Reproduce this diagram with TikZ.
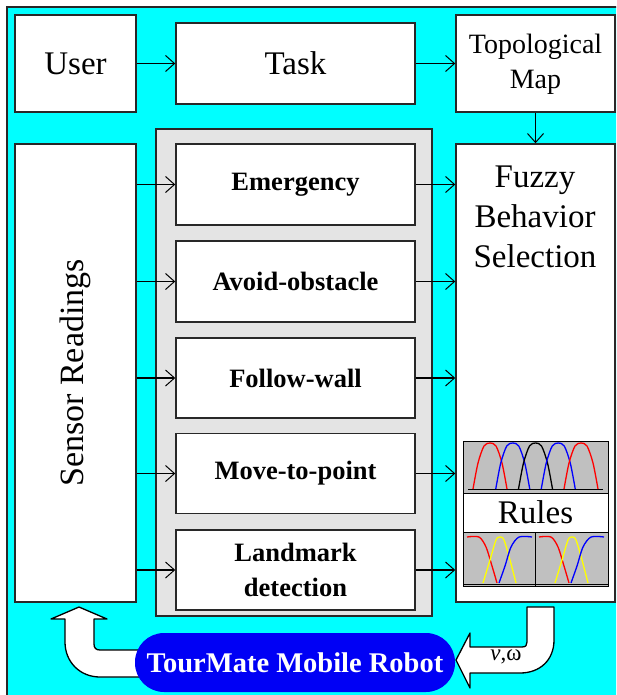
\documentclass[tikz,border=0pt]{standalone}
\usepackage{fontspec}
\setmainfont{Liberation Serif}
\usetikzlibrary{arrows.meta}
\definecolor{bgcyan}{RGB}{0,255,255}
\definecolor{panelgray}{RGB}{228,228,228}
\definecolor{plotgray}{RGB}{192,192,192}
\definecolor{robotblue}{RGB}{0,0,245}
\definecolor{myyellow}{RGB}{255,255,0}
\definecolor{edgegray}{RGB}{40,40,40}
\begin{document}
\begin{tikzpicture}[x=1pt,y=-1pt,
  box/.style={draw=edgegray,line width=1.5pt,fill=white,inner sep=0pt},
  conn/.style={line width=1.3pt,-{Straight Barb[length=9pt,width=16pt,line width=1pt]}},
  bigtxt/.style={font=\fontsize{33}{40}\selectfont,align=center},
  toptxt/.style={font=\fontsize{33}{40}\selectfont},
  behtxt/.style={font=\bfseries\fontsize{26.5}{35}\selectfont,align=center},
  hollow/.style={draw=black,line width=1.3pt,fill=white,line join=round},
  mf/.style={line width=1.3pt}]
\clip (0,0) rectangle (616,695);
\fill[white] (0,0) rectangle (616,695);
\draw[fill=bgcyan,line width=1.5pt,draw=edgegray] (7,7) rectangle (640,720);

% top row
\node[box,minimum width=121pt,minimum height=97pt,toptxt] (user) at (75.5,63.5) {User};
\node[box,minimum width=239pt,minimum height=81pt,toptxt] (task) at (295.5,63.5) {Task};
\node[box,minimum width=159pt,minimum height=97pt] (topo) at (535.5,63.5) {};
\node[font=\fontsize{28}{35}\selectfont,align=center] (topotxt) at (535.5,64) {Topological\\Map};

% sensor readings
\node[box,minimum width=121pt,minimum height=458pt] (sensor) at (75.5,373) {};
\node[rotate=90,font=\fontsize{34}{40}\selectfont] (sensortxt) at (75.5,373) {Sensor Readings};

% behaviours panel
\node[draw=edgegray,line width=1.5pt,fill=panelgray,minimum width=276pt,minimum height=487pt,inner sep=0pt] (panel) at (294,372.5) {};
\node[box,minimum width=239pt,minimum height=81pt,behtxt] (emerg) at (295.5,184.5) {Emergency};
\node[box,minimum width=239pt,minimum height=81pt,behtxt] (avoid) at (295.5,281.5) {Avoid-obstacle};
\node[box,minimum width=239pt,minimum height=80pt,behtxt] (follow) at (295.5,378) {Follow-wall};
\node[box,minimum width=239pt,minimum height=80pt,behtxt] (move) at (295.5,473.5) {Move-to-point};
\node[box,minimum width=239pt,minimum height=80pt,behtxt] (land) at (295.5,570) {Landmark\\detection};

% fuzzy behaviour selection
\node[box,minimum width=159pt,minimum height=458pt] (fuzzy) at (535.5,373) {};
\node[bigtxt] (fuzzytxt) at (535,217) {Fuzzy\\Behavior\\Selection};

% rules panel
\node[draw=black,line width=1pt,fill=plotgray,minimum width=145pt,minimum height=145pt,inner sep=0pt] (rules) at (535.5,513.5) {};
\node[draw=black,line width=1pt,fill=white,minimum width=145pt,minimum height=39pt,inner sep=0pt,font=\fontsize{33}{40}\selectfont] (rulestxt) at (535.5,512.5) {Rules};
\draw[line width=1pt] (rulestxt.south) -- (rules.south);
\draw[line width=1pt] (468,489) -- (603,489);
\draw[line width=1pt] (463,584) -- (608,584);
\foreach \c/\col in {490/red,512.75/blue,535.5/black,558.25/blue,581/red}{
  \draw[mf,\col] plot[smooth,tension=0.5] coordinates {(\c-17,489) (\c-12,463) (\c-6,446) (\c,443) (\c+6,446) (\c+12,463) (\c+17,489)};
}
\foreach \o in {0,72}{
  \draw[mf,red] plot[smooth,tension=0.5] coordinates {(467+\o,537) (479+\o,537) (486+\o,547) (492+\o,566) (497+\o,583)};
  \draw[mf,myyellow] plot[smooth,tension=0.5] coordinates {(483+\o,583) (490+\o,560) (496+\o,540) (500+\o,537) (504+\o,540) (510+\o,560) (516+\o,583)};
  \draw[mf,blue] plot[smooth,tension=0.5] coordinates {(499+\o,583) (505+\o,566) (511+\o,547) (519+\o,537) (532+\o,537)};
}

% connectors
\draw[conn] (user) -- (task);
\draw[conn] (task) -- (topo);
\draw[conn] (topo) -- (fuzzy);
\foreach \b in {emerg,avoid,follow,move,land}{
  \draw[conn] (sensor.east |- \b.west) -- (\b.west);
  \draw[conn] (\b.east) -- (fuzzy.west |- \b.east);
}

% hollow arrows
\draw[hollow] (79,607) -- (107,619) -- (94,619) -- (94,644) .. controls (94,648) and (96,650) .. (100,650) -- (140,650) -- (140,677) -- (100,677) .. controls (80,677) and (65,662) .. (65,642) -- (65,619) -- (51,619) -- cycle;
\draw[hollow] (456,660) -- (470,633) -- (470,647) -- (522,647) .. controls (526,647) and (527,645) .. (527,642) -- (527,607) -- (554,607) -- (554,640) .. controls (554,660) and (540,673) .. (520,673) -- (470,673) -- (470,688) -- cycle;
\node[font=\fontsize{23}{26}\selectfont] (vw) at (506,657) {\textit{ν},ω};

% robot
\node[fill=robotblue,rounded corners=29pt,minimum width=320pt,minimum height=59pt,inner sep=0pt,text=white,font=\bfseries\fontsize{28.5}{30}\selectfont] (robot) at (295,662.5) {TourMate Mobile Robot};
\end{tikzpicture}
\end{document}
